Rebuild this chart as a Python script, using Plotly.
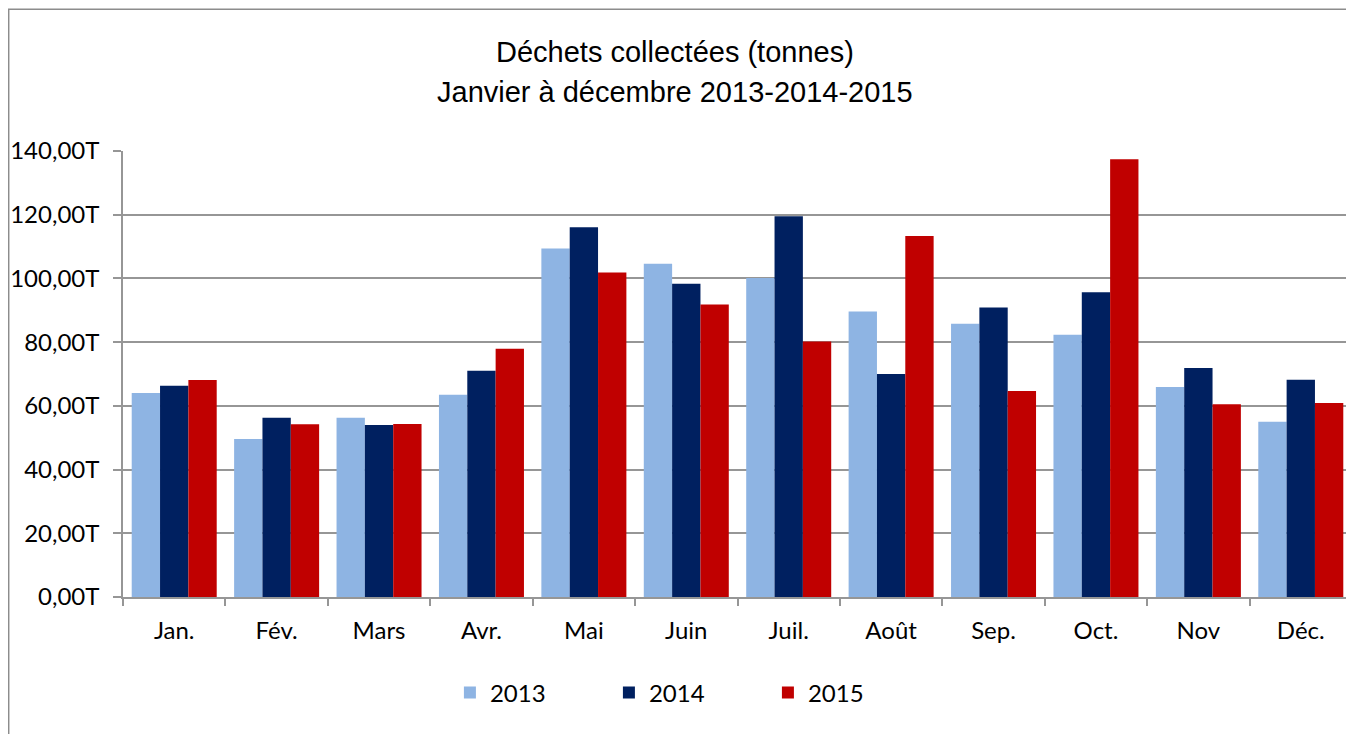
import plotly.graph_objects as go

months = ["Jan.", "Fév.", "Mars", "Avr.", "Mai", "Juin", "Juil.", "Août", "Sep.", "Oct.", "Nov", "Déc."]
v2013 = [64.0, 49.6, 56.3, 63.5, 109.4, 104.6, 100.1, 89.6, 85.8, 82.3, 65.9, 55.0]
v2014 = [66.3, 56.3, 54.0, 71.0, 116.1, 98.3, 119.5, 70.0, 90.9, 95.7, 71.9, 68.2]
v2015 = [68.1, 54.2, 54.3, 77.9, 101.9, 91.8, 80.2, 113.3, 64.7, 137.4, 60.5, 60.9]
ytickvals = [0, 20, 40, 60, 80, 100, 120, 140]
yticktext = ["0,00T", "20,00T", "40,00T", "60,00T", "80,00T", "100,00T", "120,00T", "140,00T"]

series = [("2013", v2013, "#8EB4E3"), ("2014", v2014, "#002060"), ("2015", v2015, "#C00000")]

fig = go.Figure()
for name, vals, col in series:
    fig.add_trace(go.Bar(x=months, y=vals, name=name, marker_color=col,
                         marker_line_width=0))

tickfont = dict(family="Lato", size=24, color="#000000")

fig.update_layout(
    width=1354, height=734,
    margin=dict(l=115, r=10, t=143, b=145, autoexpand=False),
    paper_bgcolor="white", plot_bgcolor="white",
    barmode="group", bargap=0.17, bargroupgap=0,
    showlegend=True,
    legend=dict(orientation="h", x=0.266, y=-0.215, xanchor="left", yanchor="middle",
                font=tickfont, entrywidth=114, entrywidthmode="pixels",
                traceorder="normal"),
    xaxis=dict(showline=True, linecolor="#969696", linewidth=1.5, automargin=False,
               ticks="outside", tickson="boundaries", ticklen=7, tickcolor="#969696",
               tickwidth=1.5, tickfont=tickfont, showgrid=False, ticklabelstandoff=11),
    yaxis=dict(range=[0, 140], tickvals=ytickvals, ticktext=yticktext, automargin=False,
               showline=True, linecolor="#969696", linewidth=1.5,
               ticks="outside", ticklen=8, tickcolor="#969696", tickwidth=1.5,
               showgrid=True, gridcolor="#969696", gridwidth=1.5,
               tickfont=tickfont, ticklabelstandoff=9, zeroline=False),
    annotations=[
        dict(text="Déchets collectées (tonnes)", xref="paper", yref="paper",
             x=0.449, y=1.222, xanchor="center", yanchor="middle", showarrow=False,
             font=dict(family="Liberation Sans", size=29, color="#000000")),
        dict(text="Janvier à décembre 2013-2014-2015", xref="paper", yref="paper",
             x=0.449, y=1.132, xanchor="center", yanchor="middle", showarrow=False,
             font=dict(family="Liberation Sans", size=29, color="#000000")),
    ],
    shapes=[dict(type="rect", xref="paper", yref="paper",
                 x0=-0.0930, x1=1.0, y0=-0.5, y1=1.318,
                 line=dict(color="#8C8C8C", width=1.5), fillcolor="rgba(0,0,0,0)",
                 layer="below")],
)

fig.write_html("out.html")
